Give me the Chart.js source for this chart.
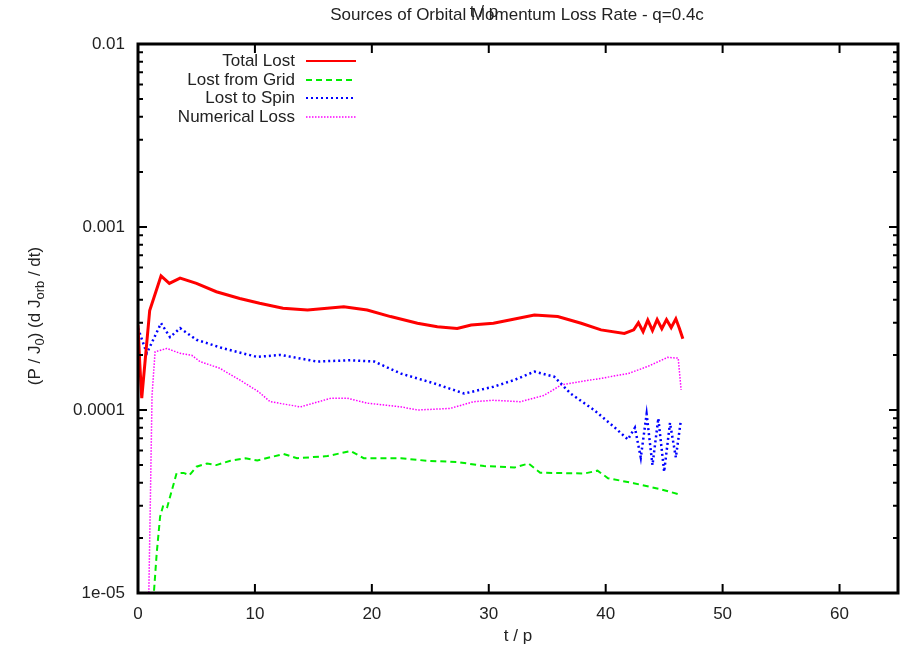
<!DOCTYPE html>
<html lang="en">
<head>
<meta charset="UTF-8" />
<title>Sources of Orbital Momentum Loss Rate - q=0.4c</title>
<script src="https://cdn.jsdelivr.net/npm/chart.js"></script>
<style>
  * { margin: 0; padding: 0; box-sizing: border-box; }
  body { background: #fff; width: 904px; height: 653px; overflow: hidden; }
</style>
</head>
<body>
<canvas id="chart" width="904" height="653"></canvas>
<script>
// axis ticks
const xTicks = [0, 10, 20, 30, 40, 50, 60];
const yTicks = [1e-5, 1e-4, 1e-3, 1e-2];
const yTickLabels = ['1e-05', '0.0001', '0.001', '0.01'];

// Total Lost
const totalT = [0, 0.15, 0.32, 1.0, 1.97, 2.68, 3.6, 5.0, 6.7, 8.7, 10.4, 12.4, 14.5, 17.6, 19.6, 21.6, 23.9, 25.6, 27.3, 28.5,
  30.4, 32.0, 33.9, 35.9, 37.9, 39.6, 41.6, 42.4, 42.8, 43.2, 43.6, 44.0, 44.4, 44.8, 45.2, 45.6, 46.0, 46.3, 46.6];
const totalV = [2.9e-4, 1.8e-4, 1.16e-4, 3.5e-4, 5.4e-4, 4.92e-4, 5.26e-4, 4.92e-4, 4.43e-4, 4.07e-4, 3.83e-4, 3.6e-4, 3.52e-4, 3.67e-4, 3.52e-4, 3.24e-4, 2.98e-4, 2.85e-4, 2.79e-4, 2.91e-4,
  2.98e-4, 3.12e-4, 3.3e-4, 3.24e-4, 2.98e-4, 2.74e-4, 2.62e-4, 2.74e-4, 3.0e-4, 2.68e-4, 3.1e-4, 2.72e-4, 3.12e-4, 2.78e-4, 3.12e-4, 2.82e-4, 3.15e-4, 2.8e-4, 2.45e-4];

// Lost from Grid
const gridT = [1.25, 1.6, 1.89, 2.17, 2.5, 3.3, 3.9, 4.4, 5.0, 5.9, 6.7, 7.9, 9.2, 10.2, 12.45, 13.6, 16.2, 18.2, 19.3, 22.5,
  24.7, 27.3, 29.6, 32.2, 33.4, 34.4, 38.2, 39.3, 40.2, 42.4, 44.7, 46.4];
const gridV = [8e-6, 1.65e-5, 2.61e-5, 3.03e-5, 2.95e-5, 4.51e-5, 4.53e-5, 4.4e-5, 4.9e-5, 5.1e-5, 5.0e-5, 5.28e-5, 5.45e-5, 5.3e-5, 5.75e-5, 5.45e-5, 5.6e-5, 5.97e-5, 5.45e-5, 5.45e-5,
  5.28e-5, 5.2e-5, 4.94e-5, 4.85e-5, 5.1e-5, 4.54e-5, 4.5e-5, 4.66e-5, 4.24e-5, 3.98e-5, 3.69e-5, 3.44e-5];

// Lost to Spin
const spinT = [0, 0.75, 1.97, 2.74, 3.6, 5.0, 7.3, 10.2, 12.2, 15.3, 18.2, 20.2, 22.5, 25.3, 27.9, 30.4, 32.2, 33.9, 35.6, 37.0,
  39.0, 40.7, 41.9, 42.5, 43.0, 43.5, 44.0, 44.5, 45.0, 45.5, 46.0, 46.4];
const spinV = [2.8e-4, 2.04e-4, 2.98e-4, 2.5e-4, 2.8e-4, 2.42e-4, 2.17e-4, 1.95e-4, 2.0e-4, 1.84e-4, 1.87e-4, 1.84e-4, 1.58e-4, 1.4e-4, 1.23e-4, 1.34e-4, 1.46e-4, 1.62e-4, 1.52e-4, 1.23e-4,
  1.0e-4, 8.1e-5, 6.9e-5, 8.0e-5, 5.5e-5, 9.5e-5, 5.0e-5, 9.0e-5, 4.6e-5, 8.5e-5, 5.5e-5, 8.5e-5];

// Numerical Loss
const numT = [0.9, 1.05, 1.2, 1.46, 2.46, 3.6, 4.6, 5.3, 7.0, 8.7, 10.3, 11.3, 13.9, 16.5, 17.9, 19.6, 22.5, 23.9, 26.7, 28.7,
  30.4, 32.7, 34.7, 36.2, 37.9, 39.6, 41.9, 43.6, 45.3, 46.2, 46.45];
const numV = [8e-6, 3e-5, 1.2e-4, 2.08e-4, 2.17e-4, 2.04e-4, 1.99e-4, 1.84e-4, 1.69e-4, 1.46e-4, 1.26e-4, 1.11e-4, 1.04e-4, 1.16e-4, 1.16e-4, 1.09e-4, 1.04e-4, 1.0e-4, 1.02e-4, 1.11e-4,
  1.13e-4, 1.11e-4, 1.2e-4, 1.37e-4, 1.43e-4, 1.49e-4, 1.58e-4, 1.73e-4, 1.94e-4, 1.92e-4, 1.29e-4];

const FONT = '"Liberation Sans", Arial, sans-serif';
const pts = (ts, vs) => ts.map((t, i) => ({ x: t, y: vs[i] }));

const series = [
  { label: 'Total Lost',     data: pts(totalT, totalV), color: '#ff0000', width: 3,   dash: [] },
  { label: 'Lost from Grid', data: pts(gridT, gridV),   color: '#00ee00', width: 2,   dash: [6, 4] },
  { label: 'Lost to Spin',   data: pts(spinT, spinV),   color: '#0000ff', width: 2.5, dash: [2, 3] },
  { label: 'Numerical Loss', data: pts(numT, numV),     color: '#ff00ff', width: 1.5, dash: [1.5, 1.5] }
];

// frame, inward ticks, legend and titles in gnuplot style
const gnuplotDeco = {
  id: 'gnuplotDeco',
  afterDraw(chart) {
    const { ctx, chartArea: a, scales } = chart;
    const xs = scales.x, ys = scales.y;
    ctx.save();
    ctx.strokeStyle = '#000';
    ctx.lineWidth = 2;
    // x major ticks, top and bottom
    xTicks.forEach(v => {
      const px = xs.getPixelForValue(v);
      ctx.beginPath();
      ctx.moveTo(px, a.bottom); ctx.lineTo(px, a.bottom - 9);
      ctx.moveTo(px, a.top); ctx.lineTo(px, a.top + 9);
      ctx.stroke();
    });
    // y major + minor ticks, left and right
    for (let e = -5; e < -2; e++) {
      for (let m = 1; m <= 9; m++) {
        const py = ys.getPixelForValue(m * Math.pow(10, e));
        const len = m === 1 ? 9 : 5;
        ctx.beginPath();
        ctx.moveTo(a.left, py); ctx.lineTo(a.left + len, py);
        ctx.moveTo(a.right, py); ctx.lineTo(a.right - len, py);
        ctx.stroke();
      }
    }
    // frame
    ctx.lineWidth = 3;
    ctx.strokeRect(a.left, a.top, a.right - a.left, a.bottom - a.top);

    // legend
    ctx.font = '17px ' + FONT;
    ctx.fillStyle = '#222';
    ctx.textAlign = 'right';
    ctx.textBaseline = 'middle';
    const rows = [61, 80, 98, 117];
    series.forEach((s, i) => {
      ctx.fillText(s.label, 295, rows[i]);
      ctx.beginPath();
      ctx.strokeStyle = s.color;
      ctx.lineWidth = Math.min(s.width, 2);
      ctx.setLineDash(s.dash);
      ctx.moveTo(306, rows[i]); ctx.lineTo(356, rows[i]);
      ctx.stroke();
    });
    ctx.setLineDash([]);

    // title and the overlapping top axis label
    ctx.textAlign = 'center';
    ctx.fillText('Sources of Orbital Momentum Loss Rate - q=0.4c', 517, 15);
    ctx.fillText('t / p', 484, 12);

    // x axis title
    ctx.fillText('t / p', (a.left + a.right) / 2, 636);

    // y axis title with subscripts
    ctx.translate(35, 316);
    ctx.rotate(-Math.PI / 2);
    const parts = [['(P / J', 0], ['0', 1], [') (d J', 0], ['orb', 1], [' / dt)', 0]];
    const fMain = '17px ' + FONT, fSub = '13px ' + FONT;
    let total = 0;
    parts.forEach(p => { ctx.font = p[1] ? fSub : fMain; total += ctx.measureText(p[0]).width; });
    let x = -total / 2;
    ctx.textAlign = 'left';
    parts.forEach(p => {
      ctx.font = p[1] ? fSub : fMain;
      ctx.fillText(p[0], x, p[1] ? 5 : 0);
      x += ctx.measureText(p[0]).width;
    });
    ctx.restore();
  }
};

new Chart(document.getElementById('chart'), {
  type: 'line',
  data: {
    datasets: series.map(s => ({
      label: s.label,
      data: s.data,
      borderColor: s.color,
      borderWidth: s.width,
      borderDash: s.dash,
      pointRadius: 0,
      tension: 0,
      fill: false
    }))
  },
  options: {
    responsive: false,
    animation: false,
    devicePixelRatio: 1,
    layout: { padding: { top: 44, right: 6, left: 0, bottom: 0 } },
    plugins: { legend: { display: false }, title: { display: false }, tooltip: { enabled: false } },
    scales: {
      x: {
        type: 'linear',
        min: 0,
        max: 65,
        grid: { display: false },
        border: { display: false },
        afterBuildTicks: s => { s.ticks = xTicks.map(v => ({ value: v })); },
        afterFit: s => { s.height = 60; },
        ticks: { color: '#222', padding: 3, font: { size: 17, family: FONT }, maxRotation: 0 }
      },
      y: {
        type: 'logarithmic',
        min: 1e-5,
        max: 1e-2,
        grid: { display: false },
        border: { display: false },
        afterBuildTicks: s => { s.ticks = yTicks.map(v => ({ value: v })); },
        afterFit: s => { s.width = 138; },
        ticks: {
          color: '#222',
          padding: 5,
          font: { size: 17, family: FONT },
          callback: (v) => yTickLabels[yTicks.indexOf(v)] ?? ''
        }
      }
    }
  },
  plugins: [gnuplotDeco]
});
</script>
</body>
</html>
